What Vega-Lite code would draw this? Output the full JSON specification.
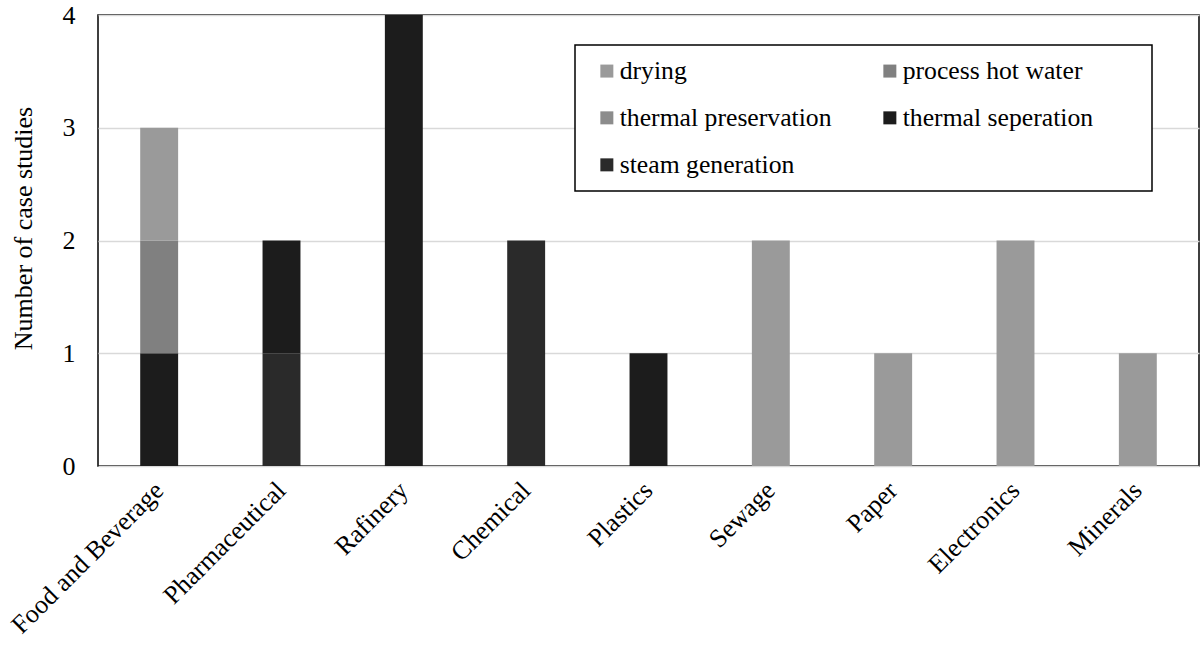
{
  "$schema": "https://vega.github.io/schema/vega-lite/v6.json",
  "width": 1101,
  "height": 451,
  "autosize": "none",
  "padding": {"left": 98, "top": 15, "right": 4, "bottom": 187},
  "background": "white",
  "config": {
    "font": "Liberation Serif",
    "view": {"stroke": "black", "strokeWidth": 1.5},
    "axis": {"labelFont": "Liberation Serif", "titleFont": "Liberation Serif", "labelColor": "black", "titleColor": "black", "titleFontWeight": "normal"},
    "legend": {"labelFont": "Liberation Serif", "strokeWidth": 1.5}
  },
  "data": {
    "values": [
      {"industry": "Food and Beverage", "application": "thermal seperation", "count": 1, "ord": 2},
      {"industry": "Food and Beverage", "application": "process hot water", "count": 1, "ord": 4},
      {"industry": "Food and Beverage", "application": "drying", "count": 1, "ord": 5},
      {"industry": "Pharmaceutical", "application": "steam generation", "count": 1, "ord": 1},
      {"industry": "Pharmaceutical", "application": "thermal seperation", "count": 1, "ord": 2},
      {"industry": "Rafinery", "application": "thermal seperation", "count": 4, "ord": 2},
      {"industry": "Chemical", "application": "steam generation", "count": 2, "ord": 1},
      {"industry": "Plastics", "application": "thermal seperation", "count": 1, "ord": 2},
      {"industry": "Sewage", "application": "drying", "count": 2, "ord": 5},
      {"industry": "Paper", "application": "drying", "count": 1, "ord": 5},
      {"industry": "Electronics", "application": "drying", "count": 2, "ord": 5},
      {"industry": "Minerals", "application": "drying", "count": 1, "ord": 5}
    ]
  },
  "mark": {"type": "bar"},
  "encoding": {
    "x": {
      "field": "industry",
      "type": "nominal",
      "sort": ["Food and Beverage", "Pharmaceutical", "Rafinery", "Chemical", "Plastics", "Sewage", "Paper", "Electronics", "Minerals"],
      "scale": {"paddingInner": 0.69, "paddingOuter": 0.345},
      "axis": {
        "title": null,
        "labelAngle": -45,
        "labelAlign": "right",
        "labelBaseline": "middle",
        "labelFont": "Liberation Serif",
        "labelFontSize": 26,
        "labelPadding": 20,
        "labelOffset": 0,
        "labelLimit": 400,
        "ticks": false,
        "domain": false
      }
    },
    "y": {
      "field": "count",
      "type": "quantitative",
      "stack": "zero",
      "scale": {"domain": [0, 4]},
      "axis": {
        "title": "Number of case studies",
        "titleFont": "Liberation Serif",
        "titleFontSize": 26,
        "titleAngle": -90,
        "titleAlign": "center",
        "titleBaseline": "middle",
        "titleX": -75,
        "titleY": 213,
        "values": [0, 1, 2, 3, 4],
        "labelFont": "Liberation Serif",
        "labelFontSize": 26,
        "labelPadding": 23,
        "ticks": false,
        "tickSize": 0,
        "domain": false,
        "grid": true,
        "gridColor": "#d9d9d9",
        "gridWidth": 1.5
      }
    },
    "order": {"field": "ord", "type": "quantitative", "sort": "ascending"},
    "color": {
      "field": "application",
      "type": "nominal",
      "scale": {
        "domain": ["drying", "process hot water", "thermal preservation", "thermal seperation", "steam generation"],
        "range": ["#9a9a9a", "#808080", "#8c8c8c", "#1c1c1c", "#2a2a2a"]
      },
      "legend": {
        "title": null,
        "orient": "none",
        "legendX": 477,
        "legendY": 30,
        "columns": 2,
        "direction": "horizontal",
        "padding": 13,
        "symbolOffset": 6,
        "strokeColor": "black",
        "fillColor": "white",
        "symbolType": "square",
        "symbolSize": 169,
        "symbolStrokeWidth": 0,
        "labelFont": "Liberation Serif",
        "labelFontSize": 25.7,
        "labelColor": "black",
        "labelLimit": 600,
        "labelOffset": 0,
        "rowPadding": 20,
        "columnPadding": 39,
        "labelExpr": "datum.value == 'thermal seperation' ? datum.label + '\u00a0\u00a0\u00a0\u00a0\u00a0\u00a0\u00a0\u200b' : datum.label"
      }
    }
  }
}
